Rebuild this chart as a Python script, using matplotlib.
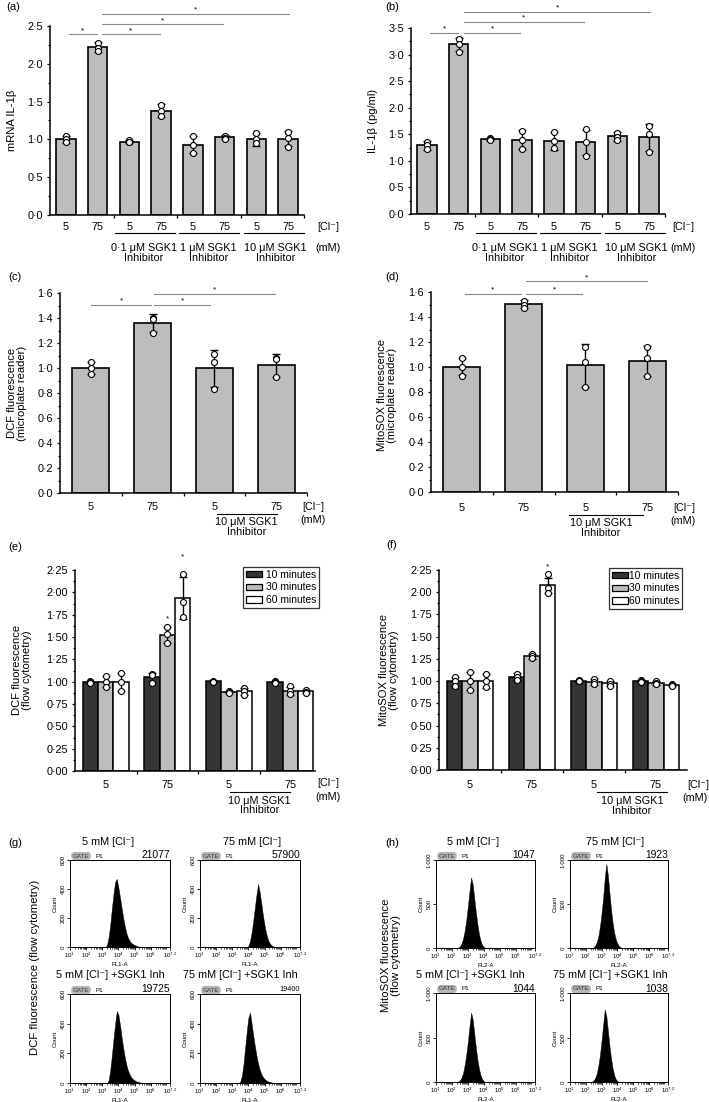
import numpy as np
import matplotlib
matplotlib.use("Agg")
import matplotlib.pyplot as plt
from matplotlib import transforms
from matplotlib.ticker import FixedLocator, FuncFormatter
from matplotlib.patches import Patch

plt.rcParams['font.family'] = ['Liberation Sans', 'DejaVu Sans']
plt.rcParams['mathtext.fontset'] = 'custom'
plt.rcParams['mathtext.rm'] = 'Liberation Sans'
plt.rcParams['mathtext.it'] = 'Liberation Sans'

W, H = 709, 1102
FS = 7.8
YL = 8.1
GREY = '#bdbdbd'
DARK = '#353535'
SIGC = '#8a8a8a'

# ---------------- data ----------------
cl_labels8 = ["5", "75", "5", "75", "5", "75", "5", "75"]
cl_labels4 = ["5", "75", "5", "75"]
inhib_labels = ["0·1 μM SGK1\nInhibitor", "1 μM SGK1\nInhibitor", "10 μM SGK1\nInhibitor"]

a_mean = [1.00, 2.22, 0.97, 1.38, 0.93, 1.03, 1.00, 1.01]
a_err = [0.05, 0.065, 0.02, 0.085, 0.115, 0.03, 0.085, 0.10]
a_pts = [[1.04, 1.00, 0.96], [2.28, 2.21, 2.17], [0.99, 0.97, 0.96], [1.45, 1.38, 1.31],
         [1.04, 0.93, 0.82], [1.05, 1.02, 1.01], [1.08, 1.00, 0.95], [1.10, 1.02, 0.90]]

b_mean = [1.29, 3.19, 1.41, 1.40, 1.38, 1.35, 1.46, 1.44]
b_err = [0.08, 0.13, 0.02, 0.18, 0.17, 0.24, 0.08, 0.26]
b_pts = [[1.36, 1.29, 1.22], [3.29, 3.20, 3.05], [1.43, 1.41, 1.39], [1.57, 1.40, 1.22],
         [1.55, 1.38, 1.24], [1.60, 1.35, 1.10], [1.53, 1.45, 1.40], [1.66, 1.50, 1.17]]

c_mean = [1.00, 1.357, 0.997, 1.024]
c_err = [0.05, 0.072, 0.147, 0.092]
c_pts = [[1.05, 1.00, 0.95], [1.40, 1.39, 1.28], [1.115, 1.045, 0.835], [1.08, 1.07, 0.925]]

d_mean = [1.003, 1.504, 1.013, 1.05]
d_err = [0.067, 0.034, 0.17, 0.12]
d_pts = [[1.07, 1.00, 0.93], [1.53, 1.50, 1.475], [1.16, 1.04, 0.84], [1.16, 1.07, 0.925]]

time_labels = ["10 minutes", "30 minutes", "60 minutes"]
e_mean = [[1.00, 1.05, 1.005, 1.00],
          [1.00, 1.52, 0.88, 0.90],
          [1.00, 1.94, 0.89, 0.89]]
e_err = [[0.01, 0.05, 0.005, 0.005],
         [0.065, 0.09, 0.01, 0.045],
         [0.10, 0.235, 0.04, 0.02]]
e_pts = [[[1.01, 1.00, 0.99], [1.09, 1.07, 0.99], [1.01, 1.00, 1.00], [1.01, 1.00, 0.99]],
         [[1.06, 1.00, 0.94], [1.61, 1.53, 1.43], [0.89, 0.88, 0.87], [0.95, 0.89, 0.86]],
         [[1.10, 1.00, 0.90], [2.20, 1.89, 1.72], [0.93, 0.89, 0.85], [0.91, 0.88, 0.87]]]

f_mean = [[1.00, 1.05, 1.005, 1.00],
          [1.00, 1.28, 0.99, 0.98],
          [1.00, 2.08, 0.975, 0.955]]
f_err = [[0.05, 0.04, 0.01, 0.01],
         [0.10, 0.03, 0.03, 0.02],
         [0.08, 0.085, 0.025, 0.01]]
f_pts = [[[1.05, 1.00, 0.95], [1.08, 1.05, 1.01], [1.01, 1.00, 1.00], [1.01, 1.00, 0.99]],
         [[1.10, 1.00, 0.90], [1.31, 1.28, 1.26], [1.02, 0.99, 0.97], [1.00, 0.98, 0.97]],
         [[1.08, 1.00, 0.93], [2.20, 2.05, 1.99], [1.00, 0.97, 0.95], [0.965, 0.955, 0.945]]]

# flow cytometry histograms: start (log10) and counts every 0.1 decade
g_titles = ["5 mM [Cl⁻]", "75 mM [Cl⁻]", "5 mM [Cl⁻] +SGK1 Inh", "75 mM [Cl⁻] +SGK1 Inh"]
g_numbers = ["21077", "57900", "19725", "19400"]
g_start = [3.2, 3.9, 3.3, 3.4]
g_counts = [
    [0, 15, 70, 160, 270, 370, 450, 470, 410, 340, 270, 200, 140, 95, 62, 42, 28, 20, 14, 9, 5, 2, 0],
    [0, 8, 40, 100, 180, 270, 360, 435, 380, 300, 220, 150, 95, 55, 30, 15, 6, 2, 0],
    [0, 20, 90, 190, 300, 400, 485, 460, 390, 310, 235, 170, 120, 82, 56, 38, 26, 18, 12, 8, 5, 3, 1, 0],
    [0, 10, 50, 130, 240, 350, 440, 475, 400, 320, 250, 185, 130, 90, 60, 40, 27, 18, 12, 8, 5, 3, 1, 0],
]
h_numbers = ["1047", "1923", "1044", "1038"]
h_start = [2.3, 2.4, 2.3, 2.3]
h_counts = [
    [0, 5, 20, 50, 110, 200, 320, 480, 650, 800, 720, 560, 400, 260, 150, 75, 30, 10, 0],
    [0, 8, 30, 70, 140, 250, 400, 580, 800, 955, 820, 620, 430, 280, 170, 95, 50, 22, 8, 0],
    [0, 5, 20, 50, 105, 195, 310, 460, 630, 780, 700, 540, 380, 245, 140, 70, 28, 8, 0],
    [0, 5, 18, 48, 100, 190, 310, 470, 650, 815, 740, 570, 400, 260, 150, 75, 30, 10, 0],
]

# ---------------- helpers ----------------
fig = plt.figure(figsize=(W / 100, H / 100), dpi=100)


def add_ax(x0, y0, x1, y1):
    return fig.add_axes([x0 / W, 1 - y1 / H, (x1 - x0) / W, (y1 - y0) / H])


def ftxt(x, y, s, **kw):
    kw.setdefault('fontsize', FS)
    kw.setdefault('ha', 'center')
    kw.setdefault('va', 'center')
    fig.text(x / W, 1 - y / H, s, **kw)


def bl(ax):
    return transforms.blended_transform_factory(ax.transData, fig.transFigure)


def xtxt(ax, x, ypx, s, **kw):
    kw.setdefault('fontsize', FS)
    kw.setdefault('ha', 'center')
    kw.setdefault('va', 'center')
    ax.text(x, 1 - ypx / H, s, transform=bl(ax), clip_on=False, **kw)


def xline(ax, x0, x1, ypx, **kw):
    ax.plot([x0, x1], [1 - ypx / H] * 2, transform=bl(ax), clip_on=False,
            color='k', lw=0.8, **kw)


def dot_fmt(dec):
    return FuncFormatter(lambda v, p: (f"{v:.{dec}f}").replace('.', '·'))


def style_bar_ax(ax, ymax, major, dec, xlim, xminor):
    ax.set_ylim(0, ymax)
    ax.set_xlim(*xlim)
    for s in ['top', 'right']:
        ax.spines[s].set_visible(False)
    for s in ['left', 'bottom']:
        ax.spines[s].set_linewidth(1.1)
    yt = np.arange(0, ymax + 1e-9, major)
    ax.yaxis.set_major_locator(FixedLocator(yt))
    ax.yaxis.set_minor_locator(FixedLocator(yt[:-1] + major / 2))
    ax.yaxis.set_major_formatter(dot_fmt(dec))
    ax.tick_params(axis='y', which='major', length=2.5, width=0.9, labelsize=FS, pad=2.5, direction='out')
    ax.tick_params(axis='y', which='minor', length=1.5, width=0.8, direction='out')
    ax.set_xticks([])
    ax.xaxis.set_minor_locator(FixedLocator(xminor))
    ax.tick_params(axis='x', which='minor', length=2.5, width=0.9, direction='out')


def sig(ax, x0, x1, y):
    ax.plot([x0, x1], [y, y], color=SIGC, lw=0.8, clip_on=False, zorder=5)
    ax.annotate('*', xy=((x0 + x1) / 2, y), xytext=(0, 0.3), textcoords='offset points',
                ha='center', va='bottom', fontsize=5.8, annotation_clip=False)


def star(ax, x, y):
    ax.annotate('*', xy=(x, y), ha='center', va='bottom', fontsize=5.8, annotation_clip=False)


def draw_points(ax, x, pts):
    ax.plot([x] * len(pts), pts, 'o', mfc='white', mec='k', ms=4.3, mew=0.8,
            zorder=4, clip_on=False)


def simple_bars(ax, means, errs, pts, width):
    xs = np.arange(len(means))
    ax.bar(xs, means, width=width, color=GREY, edgecolor='k', lw=1.2, zorder=2)
    ax.errorbar(xs, means, yerr=errs, fmt='none', ecolor='k', elinewidth=1.0,
                capsize=2.8, capthick=1.0, zorder=3)
    for x, p in zip(xs, pts):
        draw_points(ax, x, p)


# ---------------- panel (a) ----------------
ax = add_ax(50, 26, 304, 215)
simple_bars(ax, a_mean, a_err, a_pts, 0.62)
style_bar_ax(ax, 2.5, 0.5, 1, (-0.5, 7.5), [1.5, 3.5, 5.5, 7.5])
for (x0, x1, y) in [(0.1, 0.97, 2.39), (1.13, 2.95, 2.39), (1.13, 4.96, 2.52), (1.13, 7.03, 2.66)]:
    sig(ax, x0, x1, y)
for i, l in enumerate(cl_labels8):
    xtxt(ax, i, 227, l)
for (x0, x1), xc, lab in zip([(1.55, 3.45), (3.55, 5.45), (5.6, 7.5)], [2.45, 4.5, 6.6], inhib_labels):
    xline(ax, x0, x1, 233)
    xtxt(ax, xc, 253, lab, linespacing=0.95)
ftxt(328, 227, "[Cl⁻]")
ftxt(328, 248, "(mM)")
ftxt(12, 120, "mRNA IL-1β", rotation=90, fontsize=YL)
ftxt(13, 7, "(a)", fontsize=YL)

# ---------------- panel (b) ----------------
ax = add_ax(411, 28, 665, 214)
simple_bars(ax, b_mean, b_err, b_pts, 0.62)
style_bar_ax(ax, 3.5, 0.5, 1, (-0.5, 7.5), [1.5, 3.5, 5.5, 7.5])
for (x0, x1, y) in [(0.1, 0.98, 3.41), (1.16, 2.94, 3.41), (1.16, 4.95, 3.61), (1.16, 7.04, 3.81)]:
    sig(ax, x0, x1, y)
for i, l in enumerate(cl_labels8):
    xtxt(ax, i, 227, l)
for (x0, x1), xc, lab in zip([(1.55, 3.45), (3.55, 5.45), (5.6, 7.5)], [2.45, 4.5, 6.6], inhib_labels):
    xline(ax, x0, x1, 233)
    xtxt(ax, xc, 253, lab, linespacing=0.95)
ftxt(683, 227, "[Cl⁻]")
ftxt(683, 248, "(mM)")
ftxt(373, 121, "IL-1β (pg/ml)", rotation=90, fontsize=YL)
ftxt(392, 7, "(b)", fontsize=YL)

# ---------------- panel (c) ----------------
ax = add_ax(60, 293, 307, 493)
simple_bars(ax, c_mean, c_err, c_pts, 0.6)
style_bar_ax(ax, 1.6, 0.2, 1, (-0.5, 3.5), [0.5, 1.5, 2.5, 3.5])
for (x0, x1, y) in [(0.01, 0.98, 1.507), (1.02, 1.93, 1.507), (1.02, 2.98, 1.59)]:
    sig(ax, x0, x1, y)
for i, l in enumerate(cl_labels4):
    xtxt(ax, i, 507, l)
xline(ax, 2.05, 3.02, 513.5)
xtxt(ax, 2.52, 527, "10 μM SGK1\nInhibitor", linespacing=0.95)
ftxt(313, 507, "[Cl⁻]")
ftxt(313, 520, "(mM)")
ftxt(17, 393, "DCF fluorescence\n(microplate reader)", rotation=90, fontsize=YL, linespacing=1.1)
ftxt(15, 277, "(c)", fontsize=YL)

# ---------------- panel (d) ----------------
ax = add_ax(431, 292, 678, 492)
simple_bars(ax, d_mean, d_err, d_pts, 0.6)
style_bar_ax(ax, 1.6, 0.2, 1, (-0.5, 3.5), [0.5, 1.5, 2.5, 3.5])
for (x0, x1, y) in [(0.05, 0.95, 1.587), (1.04, 1.95, 1.587), (1.04, 2.99, 1.685)]:
    sig(ax, x0, x1, y)
for i, l in enumerate(cl_labels4):
    xtxt(ax, i, 508, l)
xline(ax, 1.74, 2.93, 515)
xtxt(ax, 2.25, 528, "10 μM SGK1\nInhibitor", linespacing=0.95)
ftxt(684, 508, "[Cl⁻]")
ftxt(683, 521, "(mM)")
ftxt(387, 395, "MitoSOX fluorescence\n(microplate reader)", rotation=90, fontsize=YL, linespacing=1.1)
ftxt(392, 277, "(d)", fontsize=YL)


# ---------------- panels (e), (f) ----------------
def grouped(ax, means, errs, pts):
    colors = [DARK, GREY, 'white']
    offs = [-0.25, 0.0, 0.25]
    xs = np.arange(4)
    handles = []
    for k in range(3):
        ax.bar(xs + offs[k], means[k], width=0.25, color=colors[k], edgecolor='k', lw=1.1, zorder=2)
        ax.errorbar(xs + offs[k], means[k], yerr=errs[k], fmt='none', ecolor='k',
                    elinewidth=1.0, capsize=2.6, capthick=1.0, zorder=3)
        for x, p in zip(xs + offs[k], pts[k]):
            draw_points(ax, x, p)
        handles.append(Patch(facecolor=colors[k], edgecolor='k', lw=0.9, label=time_labels[k]))
    return handles


def legend(ax, hs, xr, yt, tp):
    leg = ax.legend(handles=hs, loc='upper right', bbox_to_anchor=(xr / W, 1 - yt / H),
                    bbox_transform=fig.transFigure, fontsize=7.4, frameon=True, fancybox=False,
                    edgecolor='k', borderpad=0.25, handlelength=1.6, handleheight=0.6,
                    handletextpad=tp, labelspacing=0.28, borderaxespad=0)
    leg.get_frame().set_linewidth(0.9)


ax = add_ax(75, 570, 315, 771)
hs = grouped(ax, e_mean, e_err, e_pts)
style_bar_ax(ax, 2.25, 0.25, 2, (-0.5, 3.4), [0.5, 1.5, 2.5])
star(ax, 1.0, 1.66)
star(ax, 1.25, 2.36)
legend(ax, hs, 319, 567, 0.35)
for i, l in enumerate(cl_labels4):
    xtxt(ax, i, 785, l)
xline(ax, 2.02, 2.99, 792)
xtxt(ax, 2.5, 805.5, "10 μM SGK1\nInhibitor", linespacing=0.95)
ftxt(328, 783, "[Cl⁻]")
ftxt(328, 797, "(mM)")
ftxt(22, 670, "DCF fluorescence\n(flow cytometry)", rotation=90, fontsize=YL, linespacing=1.1)
ftxt(15, 547, "(e)", fontsize=YL)

ax = add_ax(439, 570, 687, 770)
hs = grouped(ax, f_mean, f_err, f_pts)
style_bar_ax(ax, 2.25, 0.25, 2, (-0.5, 3.5), [0.5, 1.5, 2.5])
star(ax, 1.25, 2.25)
legend(ax, hs, 682, 568, 0.1)
for i, l in enumerate(cl_labels4):
    xtxt(ax, i, 785, l)
xline(ax, 2.05, 3.18, 792)
xtxt(ax, 2.61, 806, "10 μM SGK1\nInhibitor", linespacing=0.95)
ftxt(698, 785, "[Cl⁻]")
ftxt(695, 798, "(mM)")
ftxt(389, 670, "MitoSOX fluorescence\n(flow cytometry)", rotation=90, fontsize=YL, linespacing=1.1)
ftxt(392, 545, "(f)", fontsize=YL)


# ---------------- panels (g), (h) ----------------
def hist_ax(box, start, counts, ymax, yt, ytl, xlab, number, num_fs):
    x0, y0, x1, y1 = box
    ax = add_ax(*box)
    xs = start + 0.1 * np.arange(len(counts))
    ax.fill_between(xs, counts, color='k', lw=0.3, edgecolor='k')
    ax.set_xlim(1, 7.2)
    ax.set_ylim(0, ymax)
    for s in ax.spines.values():
        s.set_linewidth(0.7)
    ax.set_xticks([1, 2, 3, 4, 5, 6, 7.2])
    ax.set_xticklabels([r'$10^{1}$', r'$10^{2}$', r'$10^{3}$', r'$10^{4}$', r'$10^{5}$',
                        r'$10^{6}$', r'$10^{7.2}$'])
    minors = [d + np.log10(k) for d in range(1, 7) for k in range(2, 10) if d + np.log10(k) < 7.2]
    ax.xaxis.set_minor_locator(FixedLocator(minors))
    ax.tick_params(axis='x', which='major', labelsize=4.4, length=2, width=0.6, pad=1)
    ax.tick_params(axis='x', which='minor', length=1.2, width=0.5)
    ax.set_yticks(yt)
    ax.set_yticklabels(ytl, rotation=90, va='center')
    ax.tick_params(axis='y', labelsize=4.4, length=2, width=0.6, pad=1)
    ax.set_xlabel(xlab, fontsize=4.4, labelpad=1)
    ax.set_ylabel("Count", fontsize=4.4, labelpad=2)
    ftxt(x0 + 11, y0 - 4, "GATE", fontsize=4.5, color='#333333',
         bbox=dict(boxstyle='round,pad=0.25,rounding_size=0.6', fc='#b5b5b5', ec='none'))
    ftxt(x0 + 29, y0 - 4, "P1", fontsize=4.5)
    ftxt(x1, y0 - 4.5, number, fontsize=num_fs, ha='right')
    return ax


g_boxes = [(70, 860, 170, 947), (200, 860, 300, 947), (70, 994, 170, 1083), (200, 994, 300, 1083)]
g_title_pos = [(108, 842), (252, 842), (110, 975), (240, 975)]
for i in range(4):
    hist_ax(g_boxes[i], g_start[i], g_counts[i], 600, [0, 200, 400, 600], ["0", "200", "400", "600"],
            "FL1-A", g_numbers[i], 7.4 if i < 3 else 5.2)
    ftxt(*g_title_pos[i], g_titles[i], fontsize=FS)
ftxt(35, 967, "DCF fluorescence (flow cytometry)", rotation=90, fontsize=8.2)
ftxt(15, 843, "(g)", fontsize=YL)

h_boxes = [(436, 860, 535, 948), (570, 860, 668, 948), (436, 993, 535, 1082), (570, 993, 668, 1082)]
h_title_pos = [(473, 842), (615, 842), (470, 975), (610, 975)]
for i in range(4):
    hist_ax(h_boxes[i], h_start[i], h_counts[i], 1000, [0, 500, 1000], ["0", "500", "1·000"],
            "FL2-A", h_numbers[i], 7.4)
    ftxt(*h_title_pos[i], g_titles[i], fontsize=FS)
ftxt(391, 955, "MitoSOX fluorescence\n(flow cytometry)", rotation=90, fontsize=8.2, linespacing=1.1)
ftxt(392, 843, "(h)", fontsize=YL)

fig.savefig("out.png", dpi=100)
